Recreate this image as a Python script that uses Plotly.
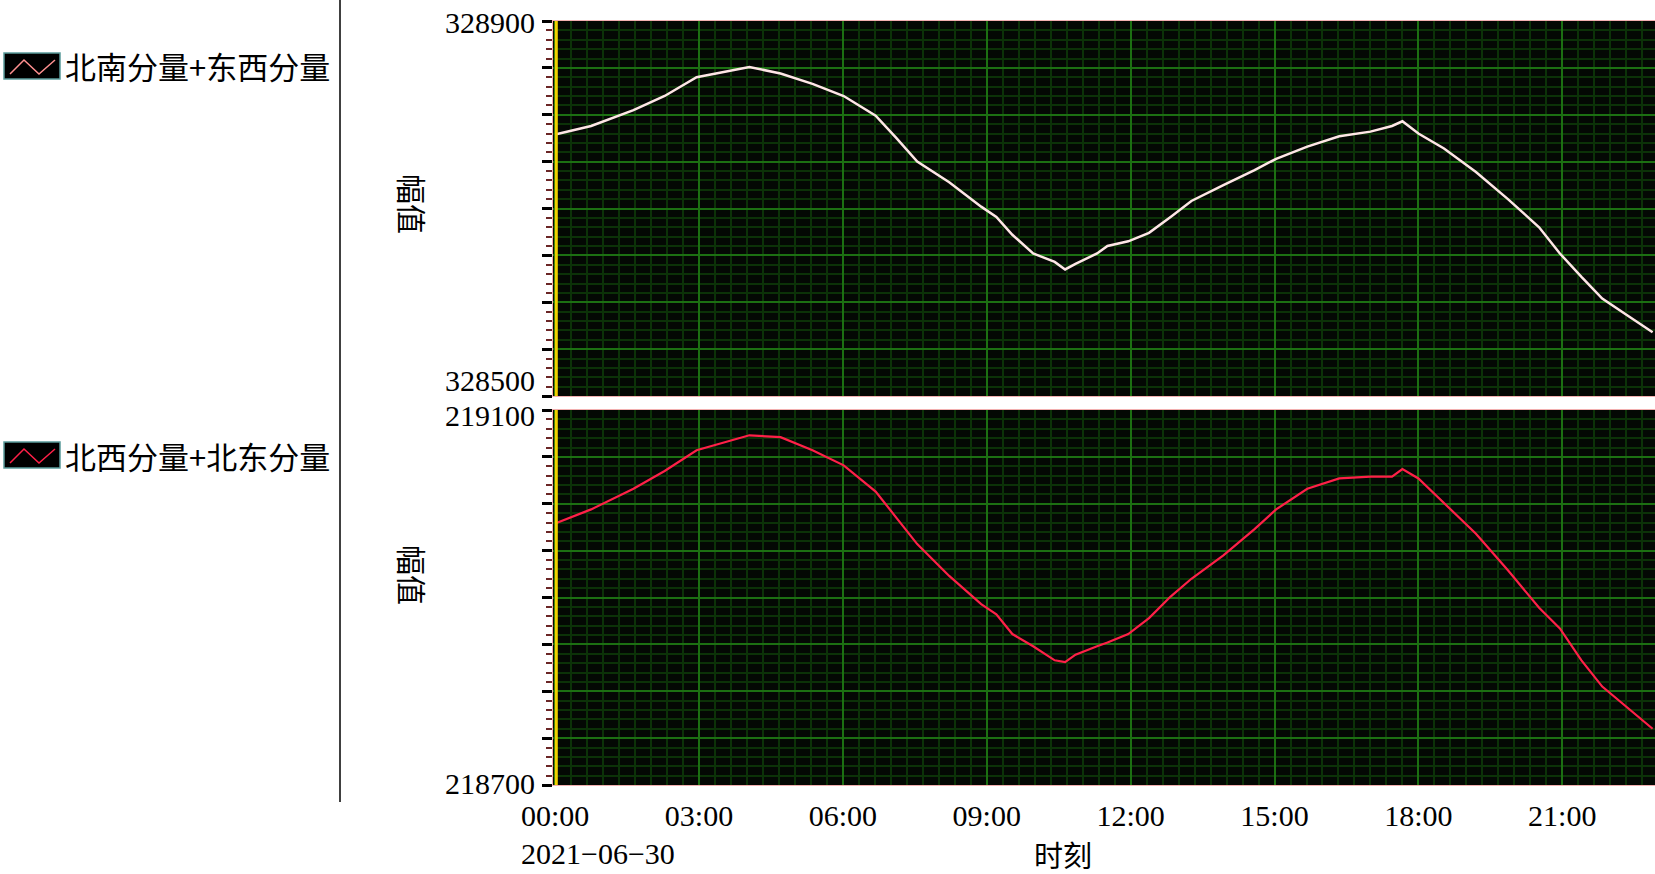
import plotly.graph_objects as go

# ---- data ----
times = ["00:00", "00:45", "01:38", "02:17", "02:57", "03:49", "04:03", "04:42", "05:22", "06:01",
         "06:41", "07:07", "07:33", "08:13", "08:53", "09:12", "09:32", "09:58", "10:25", "10:38",
         "10:51", "11:18", "11:31", "11:57", "12:23", "12:50", "13:16", "13:56", "14:35", "15:02",
         "15:41", "16:21", "17:00", "17:27", "17:40", "18:00", "18:32", "19:12", "19:52", "20:31",
         "20:57", "21:24", "21:50", "22:23", "22:53"]
ns_ew = [328779, 328788, 328805, 328820, 328840, 328849, 328851, 328844, 328833, 328820,
         328799, 328775, 328750, 328728, 328702, 328691, 328672, 328652, 328643, 328635,
         328641, 328652, 328660, 328665, 328674, 328691, 328708, 328725, 328741, 328753,
         328766, 328777, 328782, 328788, 328793, 328780, 328764, 328739, 328710, 328680,
         328652, 328627, 328604, 328585, 328568]
nw_ne = [218979, 218994, 219016, 219035, 219057, 219069, 219073, 219071, 219057, 219041,
         219013, 218985, 218957, 218923, 218893, 218882, 218861, 218848, 218833, 218831,
         218839, 218848, 218852, 218861, 218878, 218901, 218920, 218945, 218973, 218994,
         219016, 219027, 219029, 219029, 219037, 219027, 219001, 218968, 218929, 218889,
         218867, 218833, 218805, 218781, 218760]
series_names = ["北南分量+东西分量", "北西分量+北东分量"]
date = "2021-06-30"
x_tick_labels = ["00:00", "03:00", "06:00", "09:00", "12:00", "15:00", "18:00", "21:00"]
top_range = [328500, 328900]
bot_range = [218700, 219100]
x_start = "2021-06-29 23:57:20"
x_end = "2021-06-30 22:56"

x = [f"{date} {t}" for t in times]

W, H = 1655, 874
LAT = "Liberation Serif, Times New Roman, serif"
CJK = "Noto Sans CJK SC, sans-serif"

fig = go.Figure()
fig.add_trace(go.Scatter(x=x, y=ns_ew, mode="lines", line=dict(color="#ffe6e6", width=2.5),
                         xaxis="x", yaxis="y", showlegend=False))
fig.add_trace(go.Scatter(x=x, y=nw_ne, mode="lines", line=dict(color="#ff2048", width=2.2),
                         xaxis="x2", yaxis="y2", showlegend=False))

x0f = 553 / W
top_dom = [(H - 396) / H, (H - 21) / H]
bot_dom = [(H - 785) / H, (H - 410) / H]

PLOT_BG = "#040804"
MAJ = "#1c7012"
MIN = "#0c3208"

def xaxis_cfg(show_labels, anchor):
    return dict(
        domain=[x0f, 1], anchor=anchor, type="date", automargin=False,
        range=[x_start, x_end],
        tickmode="array",
        tickvals=[f"{date} {t}" for t in x_tick_labels],
        ticktext=x_tick_labels if show_labels else [""] * len(x_tick_labels),
        showticklabels=show_labels,
        ticks="", ticklabelstandoff=4,
        showgrid=True, gridcolor=MAJ, gridwidth=1.5,
        minor=dict(dtick=20 * 60 * 1000, tick0=f"{date} 00:00", showgrid=True,
                   gridcolor=MIN, gridwidth=1.5),
        showline=True, linecolor="#f2b0b0", linewidth=1, mirror=True,
        tickfont=dict(family=LAT, size=30, color="black"),
        zeroline=False,
    )

def yaxis_cfg(rng, dom, anchor):
    vals = list(range(rng[0], rng[1] + 1, 50))
    return dict(
        domain=dom, anchor=anchor, range=rng, automargin=False,
        tickmode="array", tickvals=vals, ticktext=[""] * len(vals),
        ticks="outside", ticklen=10, tickwidth=2.5, tickcolor="black",
        showgrid=True, gridcolor=MAJ, gridwidth=1.5,
        minor=dict(dtick=10, tick0=rng[0], ticks="outside", ticklen=6, tickwidth=2,
                   tickcolor="#6a2626", showgrid=True, gridcolor=MIN, gridwidth=1.5),
        showline=True, linecolor="#f2b0b0", linewidth=1, mirror=True,
        zeroline=False,
    )

fig.update_layout(
    width=W, height=H,
    autosize=False,
    margin=dict(l=0, r=0, t=0, b=0, pad=0, autoexpand=False),
    paper_bgcolor="white",
    plot_bgcolor=PLOT_BG,
    xaxis=xaxis_cfg(False, "y"),
    yaxis=yaxis_cfg(top_range, top_dom, "x"),
    xaxis2=xaxis_cfg(True, "y2"),
    yaxis2=yaxis_cfg(bot_range, bot_dom, "x2"),
    showlegend=False,
)

shapes = []
annotations = []
# y tick labels (end values only), as in the reference
label_x = 537 / W
for yref, rng in (("y", top_range), ("y2", bot_range)):
    for v in (rng[1], rng[0]):
        annotations.append(dict(xref="paper", yref=yref, x=label_x, y=v,
                                xanchor="right", yanchor="middle", showarrow=False,
                                text=str(v), font=dict(family=LAT, size=30, color="black")))
annotations[0].update(yshift=-2)
# the top panel's lower label sits above its tick
annotations[1].update(yanchor="bottom", yshift=-3)
annotations[2].update(yshift=-5)
annotations[3].update(yshift=2)

# yellow marker line at left edge of each panel
for xr, yr in (("x domain", "y domain"), ("x2 domain", "y2 domain")):
    shapes.append(dict(type="line", xref=xr, yref=yr, x0=0.003, x1=0.003, y0=0, y1=1,
                       line=dict(color="#f0d000", width=3), layer="above"))
# separator line
shapes.append(dict(type="line", xref="paper", yref="paper", x0=340 / W, x1=340 / W,
                   y0=(H - 802) / H, y1=1, line=dict(color="black", width=1.5)))

# legend icons
leg_y = [66, 455]
leg_col = ["#ff9090", "#ff2048"]
for name, cy, col in zip(series_names, leg_y, leg_col):
    top = cy - 13
    bot = cy + 13
    shapes.append(dict(type="rect", xref="paper", yref="paper",
                       x0=4 / W, x1=60 / W, y0=(H - bot) / H, y1=(H - top) / H,
                       fillcolor="black", line=dict(color="#5a9a9a", width=1.5)))
    pts = [(10, cy + 8), (24, cy - 6), (39, cy + 8), (55, cy - 6)]
    path = "M " + " L ".join(f"{px / W},{(H - py) / H}" for px, py in pts)
    shapes.append(dict(type="path", xref="paper", yref="paper", path=path,
                       line=dict(color=col, width=1.5)))
    annotations.append(dict(xref="paper", yref="paper", x=63 / W, y=(H - cy) / H,
                            xanchor="left", yanchor="middle", showarrow=False,
                            text=name, font=dict(family=CJK, size=31, color="black")))

# axis titles
for cy in (204, 575):
    annotations.append(dict(xref="paper", yref="paper", x=413 / W, y=(H - cy) / H,
                            xanchor="center", yanchor="middle", showarrow=False,
                            text="幅值", textangle=90,
                            font=dict(family=CJK, size=30, color="black")))
annotations.append(dict(xref="paper", yref="paper", x=1063 / W, y=(H - 854) / H,
                        xanchor="center", yanchor="middle", showarrow=False,
                        text="时刻", font=dict(family=CJK, size=29, color="black")))
annotations.append(dict(xref="paper", yref="paper", x=519 / W, y=(H - 853) / H,
                        xanchor="left", yanchor="middle", showarrow=False,
                        text="2021\u221206\u221230", font=dict(family=LAT, size=30, color="black")))

fig.update_layout(shapes=shapes, annotations=annotations)
fig.write_html("out.html", config={"displayModeBar": False},
               post_script="document.body.style.margin='0px';document.body.style.overflow='hidden';")
